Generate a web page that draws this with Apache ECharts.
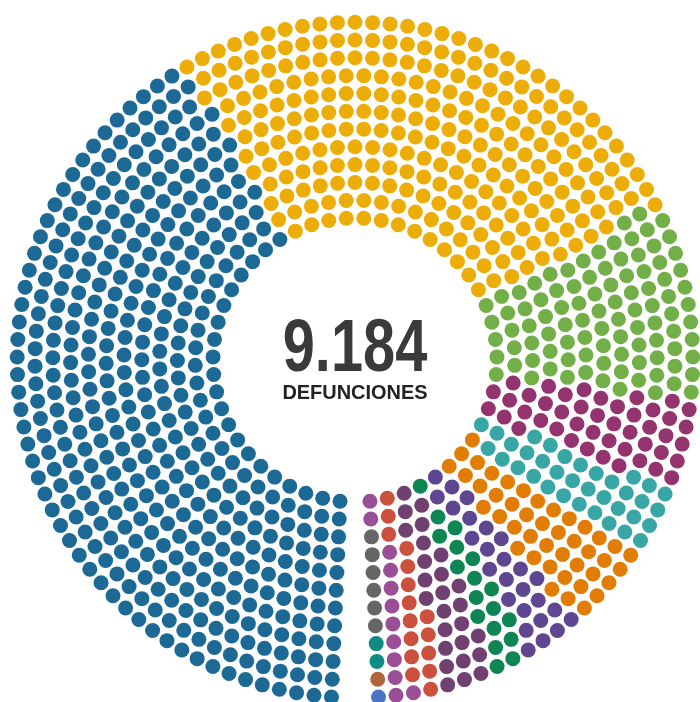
<!DOCTYPE html>
<html>
<head>
<meta charset="utf-8">
<script src="https://cdn.jsdelivr.net/npm/echarts@6/dist/echarts.min.js"></script>
<style>
    html, body { margin: 0; padding: 0; background: #fff; }
    #chart { width: 700px; height: 702px; }
</style>
</head>
<body>
<div id="chart"></div>
<script>
// categories in drawing order (starting at 6 o'clock, going counter-clockwise)
const categories = [
    'Grupo 15', 'Grupo 14', 'Grupo 13', 'Grupo 12', 'Grupo 11',
    'Grupo 10', 'Grupo 9', 'Grupo 8', 'Grupo 7', 'Grupo 6',
    'Grupo 5', 'Grupo 4', 'Grupo 3', 'Grupo 2', 'Grupo 1'
]
// deaths per category (sums to 9.184)
const values = [
    9, 9, 18, 54, 108,
    145, 235, 163, 235, 389,
    316, 407, 859, 2422, 3815
]
const colors = [
    '#4a74c8', '#b0643a', '#0f8a84', '#666666', '#994e95',
    '#cc503e', '#6f4070', '#0f8554', '#5f4690', '#e17c05',
    '#38a6a5', '#94346e', '#73af48', '#edad08', '#1d6996'
]
const totalLabel = '9.184'
const subLabel = 'DEFUNCIONES'

// dot layout
const ringCount = 12
const innerRadius = 142
const ringStep = 17.8
const gapDeg = 5

const chartInstance = echarts.init(document.getElementById('chart'))

// how many dots fit on each ring
const ringSizes = []
for (let k = 0; k < ringCount; k++) {
    const r = innerRadius + k * ringStep
    ringSizes.push(Math.round(2 * Math.PI * r / ringStep))
}
const totalDots = ringSizes.reduce((a, b) => a + b, 0)

// share the dots out by value (largest remainder)
const sum = values.reduce((a, b) => a + b, 0)
const raw = values.map(v => v / sum * totalDots)
const counts = raw.map(Math.floor)
let left = totalDots - counts.reduce((a, b) => a + b, 0)
raw.map((v, i) => [v - Math.floor(v), i])
    .sort((a, b) => b[0] - a[0])
    .slice(0, left)
    .forEach(d => { counts[d[1]]++ })

// every seat: [ring, angle], sorted by angle
const seats = []
ringSizes.forEach((n, k) => {
    const stepDeg = (360 - gapDeg) / n
    for (let i = 0; i < n; i++) {
        seats.push([k, gapDeg / 2 + (i + 0.5) * stepDeg])
    }
})
seats.sort((a, b) => a[1] - b[1] || b[0] - a[0])

let pos = 0
const series = categories.map((name, i) => {
    const data = seats.slice(pos, pos + counts[i])
    pos += counts[i]
    return {
        name: name,
        type: 'scatter',
        coordinateSystem: 'polar',
        symbol: 'circle',
        symbolSize: 15,
        itemStyle: { color: colors[i], opacity: 1 },
        data: data
    }
})

const option = {
    animation: false,
    tooltip: { trigger: 'item', formatter: p => p.seriesName },
    polar: {
        center: [355, 360],
        radius: [innerRadius, innerRadius + (ringCount - 1) * ringStep]
    },
    radiusAxis: {
        type: 'value',
        min: 0,
        max: ringCount - 1,
        axisLine: { show: false },
        axisTick: { show: false },
        axisLabel: { show: false },
        splitLine: { show: false }
    },
    angleAxis: {
        type: 'value',
        min: 0,
        max: 360,
        startAngle: 270,
        clockwise: false,
        axisLine: { show: false },
        axisTick: { show: false },
        axisLabel: { show: false },
        splitLine: { show: false }
    },
    graphic: [
        {
            type: 'text',
            x: 355,
            y: 350,
            scaleX: 0.77,
            style: {
                text: totalLabel,
                font: 'bold 75px "Liberation Sans", Arial, sans-serif',
                fill: '#3a3a3a',
                textAlign: 'center',
                textVerticalAlign: 'middle'
            }
        },
        {
            type: 'text',
            x: 355,
            y: 393,
            scaleX: 0.95,
            style: {
                text: subLabel,
                font: 'bold 21px "Liberation Sans", Arial, sans-serif',
                fill: '#222',
                textAlign: 'center',
                textVerticalAlign: 'middle'
            }
        }
    ],
    series: series
}

chartInstance.setOption(option)
</script>
</body>
</html>
